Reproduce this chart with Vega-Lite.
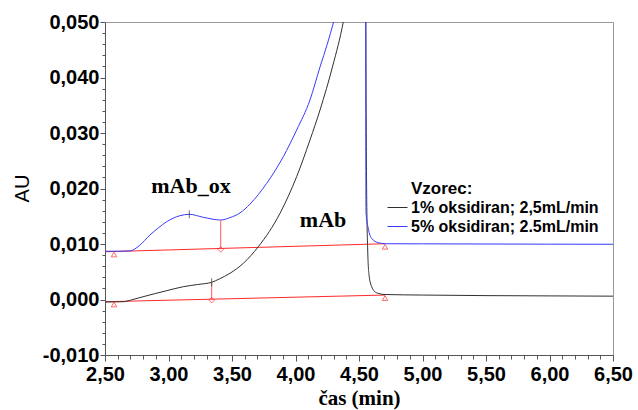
{
  "$schema": "https://vega.github.io/schema/vega-lite/v6.json",
  "width": 508,
  "height": 333,
  "autosize": {"type": "none"},
  "padding": {"left": 105, "top": 22, "right": 25, "bottom": 55},
  "background": "white",
  "config": {
    "view": {"stroke": "#999999", "strokeWidth": 1},
    "font": "Liberation Sans"
  },
  "datasets": {
    "curves": [
      {"s": "1% oksidiran; 2,5mL/min", "t": 2.50, "au": -0.00045},
      {"s": "1% oksidiran; 2,5mL/min", "t": 2.58, "au": -0.00043},
      {"s": "1% oksidiran; 2,5mL/min", "t": 2.644, "au": -0.0004},
      {"s": "1% oksidiran; 2,5mL/min", "t": 2.72, "au": 0.0000},
      {"s": "1% oksidiran; 2,5mL/min", "t": 2.80, "au": 0.0005},
      {"s": "1% oksidiran; 2,5mL/min", "t": 2.90, "au": 0.0011},
      {"s": "1% oksidiran; 2,5mL/min", "t": 2.986, "au": 0.00159},
      {"s": "1% oksidiran; 2,5mL/min", "t": 3.117, "au": 0.00231},
      {"s": "1% oksidiran; 2,5mL/min", "t": 3.23, "au": 0.0027},
      {"s": "1% oksidiran; 2,5mL/min", "t": 3.34, "au": 0.0031},
      {"s": "1% oksidiran; 2,5mL/min", "t": 3.40, "au": 0.0037},
      {"s": "1% oksidiran; 2,5mL/min", "t": 3.484, "au": 0.00472},
      {"s": "1% oksidiran; 2,5mL/min", "t": 3.589, "au": 0.00652},
      {"s": "1% oksidiran; 2,5mL/min", "t": 3.707, "au": 0.00951},
      {"s": "1% oksidiran; 2,5mL/min", "t": 3.878, "au": 0.01553},
      {"s": "1% oksidiran; 2,5mL/min", "t": 4.009, "au": 0.02213},
      {"s": "1% oksidiran; 2,5mL/min", "t": 4.114, "au": 0.02874},
      {"s": "1% oksidiran; 2,5mL/min", "t": 4.193, "au": 0.03414},
      {"s": "1% oksidiran; 2,5mL/min", "t": 4.295, "au": 0.04225},
      {"s": "1% oksidiran; 2,5mL/min", "t": 4.376, "au": 0.05},
      {"s": "1% oksidiran; 2,5mL/min", "t": 4.42, "au": 0.056},
      {"s": "1% oksidiran; 2,5mL/min", "t": 4.46, "au": 0.064},
      {"s": "1% oksidiran; 2,5mL/min", "t": 4.50, "au": 0.08},
      {"s": "1% oksidiran; 2,5mL/min", "t": 4.53, "au": 0.12},
      {"s": "1% oksidiran; 2,5mL/min", "t": 4.545, "au": 0.3},
      {"s": "1% oksidiran; 2,5mL/min", "t": 4.549, "au": 0.7},
      {"s": "1% oksidiran; 2,5mL/min", "t": 4.553, "au": 0.06},
      {"s": "1% oksidiran; 2,5mL/min", "t": 4.560, "au": 0.02},
      {"s": "1% oksidiran; 2,5mL/min", "t": 4.568, "au": 0.0093},
      {"s": "1% oksidiran; 2,5mL/min", "t": 4.579, "au": 0.0044},
      {"s": "1% oksidiran; 2,5mL/min", "t": 4.600, "au": 0.0023},
      {"s": "1% oksidiran; 2,5mL/min", "t": 4.639, "au": 0.0012},
      {"s": "1% oksidiran; 2,5mL/min", "t": 4.705, "au": 0.0009},
      {"s": "1% oksidiran; 2,5mL/min", "t": 5.0, "au": 0.0008},
      {"s": "1% oksidiran; 2,5mL/min", "t": 5.5, "au": 0.0007},
      {"s": "1% oksidiran; 2,5mL/min", "t": 6.0, "au": 0.00065},
      {"s": "1% oksidiran; 2,5mL/min", "t": 6.5, "au": 0.0006},
      {"s": "5% oksidiran; 2.5mL/min", "t": 2.50, "au": 0.0087},
      {"s": "5% oksidiran; 2.5mL/min", "t": 2.60, "au": 0.0087},
      {"s": "5% oksidiran; 2.5mL/min", "t": 2.697, "au": 0.00875},
      {"s": "5% oksidiran; 2.5mL/min", "t": 2.77, "au": 0.0097},
      {"s": "5% oksidiran; 2.5mL/min", "t": 2.854, "au": 0.01162},
      {"s": "5% oksidiran; 2.5mL/min", "t": 2.92, "au": 0.0129},
      {"s": "5% oksidiran; 2.5mL/min", "t": 2.986, "au": 0.01402},
      {"s": "5% oksidiran; 2.5mL/min", "t": 3.09, "au": 0.0151},
      {"s": "5% oksidiran; 2.5mL/min", "t": 3.164, "au": 0.01535},
      {"s": "5% oksidiran; 2.5mL/min", "t": 3.274, "au": 0.01481},
      {"s": "5% oksidiran; 2.5mL/min", "t": 3.411, "au": 0.01432},
      {"s": "5% oksidiran; 2.5mL/min", "t": 3.484, "au": 0.01475},
      {"s": "5% oksidiran; 2.5mL/min", "t": 3.563, "au": 0.01560},
      {"s": "5% oksidiran; 2.5mL/min", "t": 3.642, "au": 0.01720},
      {"s": "5% oksidiran; 2.5mL/min", "t": 3.773, "au": 0.02093},
      {"s": "5% oksidiran; 2.5mL/min", "t": 3.904, "au": 0.02573},
      {"s": "5% oksidiran; 2.5mL/min", "t": 4.009, "au": 0.03054},
      {"s": "5% oksidiran; 2.5mL/min", "t": 4.114, "au": 0.03595},
      {"s": "5% oksidiran; 2.5mL/min", "t": 4.193, "au": 0.0419},
      {"s": "5% oksidiran; 2.5mL/min", "t": 4.25, "au": 0.0460},
      {"s": "5% oksidiran; 2.5mL/min", "t": 4.30, "au": 0.05},
      {"s": "5% oksidiran; 2.5mL/min", "t": 4.35, "au": 0.0545},
      {"s": "5% oksidiran; 2.5mL/min", "t": 4.40, "au": 0.061},
      {"s": "5% oksidiran; 2.5mL/min", "t": 4.45, "au": 0.071},
      {"s": "5% oksidiran; 2.5mL/min", "t": 4.50, "au": 0.09},
      {"s": "5% oksidiran; 2.5mL/min", "t": 4.53, "au": 0.13},
      {"s": "5% oksidiran; 2.5mL/min", "t": 4.545, "au": 0.3},
      {"s": "5% oksidiran; 2.5mL/min", "t": 4.549, "au": 0.7},
      {"s": "5% oksidiran; 2.5mL/min", "t": 4.553, "au": 0.06},
      {"s": "5% oksidiran; 2.5mL/min", "t": 4.555, "au": 0.0158},
      {"s": "5% oksidiran; 2.5mL/min", "t": 4.573, "au": 0.0128},
      {"s": "5% oksidiran; 2.5mL/min", "t": 4.600, "au": 0.0110},
      {"s": "5% oksidiran; 2.5mL/min", "t": 4.652, "au": 0.01023},
      {"s": "5% oksidiran; 2.5mL/min", "t": 4.705, "au": 0.01005},
      {"s": "5% oksidiran; 2.5mL/min", "t": 5.0, "au": 0.01003},
      {"s": "5% oksidiran; 2.5mL/min", "t": 5.5, "au": 0.0100},
      {"s": "5% oksidiran; 2.5mL/min", "t": 6.0, "au": 0.00997},
      {"s": "5% oksidiran; 2.5mL/min", "t": 6.5, "au": 0.00995}
    ],
    "baselines": [
      {"b": "blue", "t": 2.5, "au": 0.0086},
      {"b": "blue", "t": 4.705, "au": 0.01005},
      {"b": "black", "t": 2.5, "au": -0.0004},
      {"b": "black", "t": 4.705, "au": 0.0008}
    ],
    "drops": [
      {"t": 3.411, "au": 0.01432, "au2": 0.0092},
      {"t": 3.34, "au": 0.0031, "au2": 0.00005}
    ],
    "triangles": [
      {"t": 2.571, "au": 0.00865},
      {"t": 4.705, "au": 0.01005},
      {"t": 2.571, "au": -0.00036},
      {"t": 4.705, "au": 0.0008}
    ],
    "diamonds": [
      {"t": 3.411, "au": 0.0092},
      {"t": 3.34, "au": 0.00005}
    ],
    "peaks": [
      {"t": 3.164, "au": 0.01535},
      {"t": 3.34, "au": 0.0031}
    ],
    "labels": [
      {"text": "mAb_ox", "t": 3.177, "au": 0.0192},
      {"text": "mAb", "t": 4.217, "au": 0.0130}
    ],
    "legendTitle": [
      {"text": "Vzorec:", "t": 4.909, "au": 0.0190}
    ]
  },
  "encoding": {
    "x": {
      "field": "t",
      "type": "quantitative",
      "scale": {"domain": [2.5, 6.5], "nice": false, "zero": false},
      "axis": {
        "title": "čas (min)",
        "values": [2.5, 2.6, 2.7, 2.8, 2.9, 3.0, 3.1, 3.2, 3.3, 3.4, 3.5, 3.6, 3.7, 3.8, 3.9, 4.0, 4.1, 4.2, 4.3, 4.4, 4.5, 4.6, 4.7, 4.8, 4.9, 5.0, 5.1, 5.2, 5.3, 5.4, 5.5, 5.6, 5.7, 5.8, 5.9, 6.0, 6.1, 6.2, 6.3, 6.4, 6.5],
        "labelExpr": "abs(datum.value*2 - round(datum.value*2)) < 0.001 ? replace(format(datum.value, '.2f'), '.', ',') : ''",
        "labelFont": "Liberation Sans",
        "labelFontWeight": "bold",
        "labelFontSize": 20,
        "labelColor": "black",
        "labelFlush": false,
        "labelOverlap": false,
        "labelPadding": 3,
        "tickSize": {"condition": {"test": "abs(datum.value*2 - round(datum.value*2)) < 0.001", "value": 6}, "value": 4},
        "tickColor": "#555555",
        "domainColor": "#555555",
        "grid": false,
        "titleFont": "Liberation Serif",
        "titleFontSize": 21,
        "titleFontWeight": "bold",
        "titleColor": "black",
        "titleY": 43,
        "titleBaseline": "middle"
      }
    },
    "y": {
      "field": "au",
      "type": "quantitative",
      "scale": {"domain": [-0.01, 0.05], "nice": false, "zero": false},
      "axis": {
        "title": "AU",
        "values": [-0.01, -0.008, -0.006, -0.004, -0.002, 0, 0.002, 0.004, 0.006, 0.008, 0.01, 0.012, 0.014, 0.016, 0.018, 0.02, 0.022, 0.024, 0.026, 0.028, 0.03, 0.032, 0.034, 0.036, 0.038, 0.04, 0.042, 0.044, 0.046, 0.048, 0.05],
        "labelExpr": "abs(datum.value*100 - round(datum.value*100)) < 0.001 ? replace(replace(format(datum.value, '.3f'), '.', ','), '−', '-') : ''",
        "labelFont": "Liberation Sans",
        "labelFontWeight": "bold",
        "labelFontSize": 20,
        "labelColor": "black",
        "labelFlush": false,
        "labelOverlap": false,
        "labelPadding": 1,
        "tickSize": {"condition": {"test": "abs(datum.value*100 - round(datum.value*100)) < 0.001", "value": 5}, "value": 3},
        "tickColor": "#555555",
        "domainColor": "#555555",
        "grid": false,
        "titleFont": "Liberation Sans",
        "titleFontSize": 20,
        "titleFontWeight": "normal",
        "titleColor": "black",
        "titleX": -83,
        "titleY": 166,
        "titleAngle": -90,
        "titleBaseline": "middle",
        "titleAlign": "center"
      }
    }
  },
  "layer": [
    {
      "data": {"name": "baselines"},
      "mark": {"type": "line", "color": "#ff2a2a", "strokeWidth": 1, "clip": true},
      "encoding": {"detail": {"field": "b"}}
    },
    {
      "data": {"name": "curves"},
      "mark": {"type": "line", "strokeWidth": 1, "interpolate": "monotone", "clip": true},
      "encoding": {
        "color": {
          "field": "s",
          "type": "nominal",
          "scale": {"domain": ["1% oksidiran; 2,5mL/min", "5% oksidiran; 2.5mL/min"], "range": ["#303030", "#3a3aff"]},
          "legend": {
            "orient": "none",
            "legendX": 282,
            "legendY": 175,
            "title": null,
            "labelFont": "Liberation Sans",
            "labelFontSize": 16,
            "labelFontWeight": "bold",
            "labelColor": "black",
            "labelLimit": 400,
            "labelOffset": 3,
            "symbolType": "stroke",
            "symbolSize": 400,
            "symbolStrokeWidth": 1,
            "rowPadding": -1,
            "padding": 0
          }
        }
      }
    },
    {
      "data": {"name": "drops"},
      "mark": {"type": "rule", "color": "#ff5a5a", "strokeWidth": 1},
      "encoding": {"y2": {"field": "au2"}}
    },
    {
      "data": {"name": "triangles"},
      "mark": {"type": "point", "shape": "triangle-up", "filled": false, "color": "#ff2a2a", "size": 30, "strokeWidth": 1, "yOffset": 3},
      "encoding": {}
    },
    {
      "data": {"name": "diamonds"},
      "mark": {"type": "point", "shape": "diamond", "filled": false, "color": "#ff2a2a", "size": 30, "strokeWidth": 1, "yOffset": 1},
      "encoding": {}
    },
    {
      "data": {"name": "peaks"},
      "mark": {"type": "point", "shape": "M0,-1L0,1", "filled": false, "color": "#333333", "size": 64, "strokeWidth": 1},
      "encoding": {}
    },
    {
      "data": {"name": "labels"},
      "mark": {"type": "text", "font": "Liberation Serif", "fontSize": 22, "fontWeight": "bold", "color": "black", "align": "center", "baseline": "alphabetic"},
      "encoding": {"text": {"field": "text"}}
    },
    {
      "data": {"name": "legendTitle"},
      "mark": {"type": "text", "font": "Liberation Sans", "fontSize": 17, "fontWeight": "bold", "color": "black", "align": "left", "baseline": "alphabetic"},
      "encoding": {"text": {"field": "text"}}
    }
  ]
}
